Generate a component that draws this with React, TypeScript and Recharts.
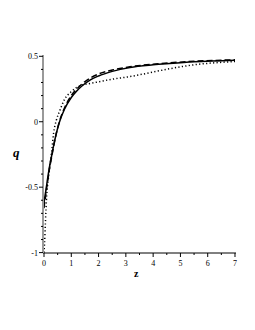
import { Line, LineChart, XAxis, YAxis } from 'recharts'

// z grid shared by the three curves
const zValues = [0, 0.02, 0.05, 0.1, 0.15, 0.2, 0.28, 0.35, 0.45, 0.57, 0.75, 1.0, 1.2, 1.4, 1.7, 2, 2.5, 3.15, 4, 4.6, 5.5, 7]

const solidQ = [-0.62, -0.59, -0.55, -0.48, -0.41, -0.345, -0.26, -0.185, -0.09, 0.0, 0.095, 0.185, 0.235, 0.275, 0.32, 0.35, 0.385, 0.415, 0.435, 0.445, 0.458, 0.47]
const dashedQ = [-0.66, -0.62, -0.58, -0.5, -0.43, -0.36, -0.27, -0.19, -0.09, 0.005, 0.105, 0.2, 0.25, 0.29, 0.335, 0.365, 0.395, 0.42, 0.44, 0.45, 0.462, 0.473]
const dottedQ = [-1.0, -0.93, -0.78, -0.56, -0.45, -0.36, -0.23, -0.09, 0.01, 0.08, 0.17, 0.23, 0.262, 0.28, 0.293, 0.305, 0.325, 0.345, 0.38, 0.405, 0.435, 0.46]

const xTicks = [0, 0.5, 1, 1.5, 2, 2.5, 3, 3.5, 4, 4.5, 5, 5.5, 6, 6.5, 7]
const yTicks = [-1, -0.9, -0.8, -0.7, -0.6, -0.5, -0.4, -0.3, -0.2, -0.1, 0, 0.1, 0.2, 0.3, 0.4, 0.5]
const yLabels: Record<string, string> = { '-1': '-1', '-0.5': '-0.5', '0': '0', '0.5': '0.5' }

const data = zValues.map((z, i) => ({ z, solid: solidQ[i], dashed: dashedQ[i], dotted: dottedQ[i] }))

const font = '"Liberation Serif", "DejaVu Serif", serif'

const XTick = ({ x, y, payload }: any) => {
  const major = Number.isInteger(payload.value)
  return (
    <g>
      <line x1={x} x2={x} y1={y} y2={y + (major ? 4 : 2)} stroke="#000" strokeWidth={1} />
      {major && (
        <text x={x} y={y + 13} textAnchor="middle" fontSize={8} fontFamily={font} fill="#000">
          {payload.value}
        </text>
      )}
    </g>
  )
}

const YTick = ({ x, y, payload }: any) => {
  const key = String(Math.round(payload.value * 10) / 10)
  const label = yLabels[key]
  return (
    <g>
      <line x1={x - (label ? 4 : 2)} x2={x} y1={y} y2={y} stroke="#000" strokeWidth={1} />
      {label && (
        <text x={x - 5} y={y + 3} textAnchor="end" fontSize={8} fontFamily={font} fill="#000">
          {label}
        </text>
      )}
    </g>
  )
}

export default function App() {
  return (
    <div style={{ position: 'absolute', left: 0, top: 0, width: 255, height: 330, background: '#fff' }}>
      <LineChart width={255} height={330} data={data} margin={{ top: 55, right: 19, left: 0, bottom: 57 }}>
        <XAxis
          xAxisId="bottom"
          dataKey="z"
          type="number"
          domain={[-0.037, 7.037]}
          ticks={xTicks}
          interval={0}
          height={20}
          tickSize={0}
          tickMargin={0}
          tickLine={false}
          axisLine={{ stroke: '#000', strokeWidth: 1 }}
          tick={<XTick />}
        />
        <XAxis
          xAxisId="top"
          orientation="top"
          dataKey="z"
          type="number"
          domain={[-0.037, 7.037]}
          height={0}
          tick={false}
          tickLine={false}
          axisLine={{ stroke: '#000', strokeWidth: 1 }}
        />
        <YAxis
          yAxisId="left"
          type="number"
          domain={[-1.003, 0.51]}
          ticks={yTicks}
          interval={0}
          width={43}
          tickSize={0}
          tickMargin={0}
          tickLine={false}
          axisLine={{ stroke: '#999', strokeWidth: 2 }}
          tick={<YTick />}
        />
        <YAxis
          yAxisId="right"
          orientation="right"
          type="number"
          domain={[-1.003, 0.51]}
          width={0}
          tick={false}
          tickLine={false}
          axisLine={{ stroke: '#999', strokeWidth: 1.5 }}
        />
        <Line
          xAxisId="bottom"
          yAxisId="left"
          type="monotone"
          dataKey="dotted"
          stroke="#000"
          strokeWidth={1.5}
          strokeDasharray="1.2 2.3"
          dot={false}
          isAnimationActive={false}
        />
        <Line
          xAxisId="bottom"
          yAxisId="left"
          type="monotone"
          dataKey="dashed"
          stroke="#000"
          strokeWidth={1.5}
          strokeDasharray="6 3"
          dot={false}
          isAnimationActive={false}
        />
        <Line
          xAxisId="bottom"
          yAxisId="left"
          type="monotone"
          dataKey="solid"
          stroke="#000"
          strokeWidth={1.5}
          dot={false}
          isAnimationActive={false}
        />
      </LineChart>
      <div style={{ position: 'absolute', left: 13, top: 145, fontFamily: font, fontWeight: 'bold', fontStyle: 'italic', fontSize: 13 }}>q</div>
      <div style={{ position: 'absolute', left: 134, top: 268, fontFamily: font, fontWeight: 'bold', fontSize: 10 }}>z</div>
    </div>
  )
}
